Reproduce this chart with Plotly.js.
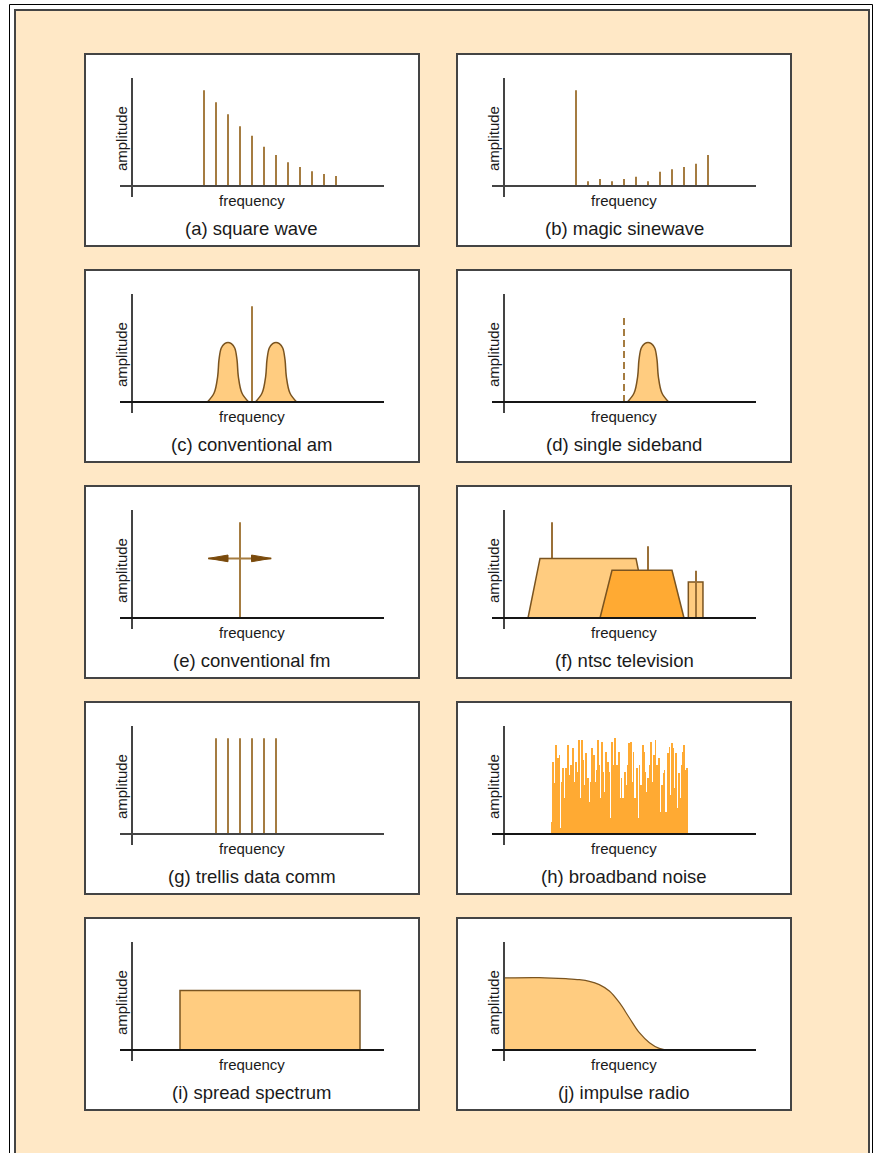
<!DOCTYPE html>
<html><head><meta charset="utf-8">
<script src="https://cdn.plot.ly/plotly-3.0.1.min.js"></script>
<style>html,body{margin:0;padding:0;background:#fff;}#chart{width:873px;height:1153px;}</style>
</head><body><div id="chart"></div>
<script>
// ---------- text ----------
const captions = ["(a) square wave","(b) magic sinewave","(c) conventional am","(d) single sideband",
  "(e) conventional fm","(f) ntsc television","(g) trellis data comm","(h) broadband noise",
  "(i) spread spectrum","(j) impulse radio"];
const xLabel = "frequency";
const yLabel = "amplitude";

// ---------- data (frequency / amplitude, arbitrary units) ----------
// (a) square wave harmonics
const squareFreq = [30,35,40,45,50,55,60,65,70,75,80,85];
const squareAmp  = [88.6,77.5,66.4,55.3,46.6,36.4,28.7,21.9,17.6,13.6,11.1,9.3];
// (b) magic sinewave
const magicFreq = [30,35,40,45,50,55,60,65,70,75,80,85];
const magicAmp  = [88.6,4.3,6.5,4.3,6.5,8.6,4.3,13.3,15.4,17.6,20.7,28.7];
// sideband profile (offset from centre, amplitude)
const bumpOffset = [-8.6,-5.8,-4.3,-3.75,-2.8,-1.4,0,1.4,2.8,3.75,4.3,5.8,8.6];
const bumpAmp    = [0,8.3,23.8,39.2,50,54,55.2,54,50,39.2,23.8,8.3,0];
// (c) conventional am
const amCarrierFreq = [50];
const amCarrierAmp  = [88.6];
const amSidebandCentres = [40,60];
// (d) single sideband
const ssbCarrierFreq = [50];
const ssbCarrierAmp  = [80];
const ssbSidebandCentres = [60];
// (e) conventional fm
const fmCarrierFreq = [45];
const fmCarrierAmp  = [88.6];
const fmSwingFreq   = [31.8,58.0];
const fmSwingAmp    = [55.2,55.2];
// (f) ntsc television
const tvVideoFreq  = [10,15,55,60];
const tvVideoAmp   = [0,55.2,55.2,0];
const tvChromaFreq = [40,45,70,75];
const tvChromaAmp  = [0,44.1,44.1,0];
const tvAudioFreq  = [76.8,76.8,82.9,82.9];
const tvAudioAmp   = [0,33.3,33.3,0];
const tvCarrierFreq = [20,60];
const tvCarrierAmp  = [88.6,66.4];
const tvAudioCarrierFreq = [80];
const tvAudioCarrierAmp  = [43.8];
// (g) trellis data comm
const trellisFreq = [35,40,45,50,55,60];
const trellisAmp  = [88.6,88.6,88.6,88.6,88.6,88.6];
// (h) broadband noise
const noiseFreq = [20.0,20.4,21.1,21.7,22.4,23.1,23.8,24.2,24.7,25.3,25.8,26.7,27.2,27.9,28.6,29.3,30.0,30.7,31.3,31.8,
  32.4,32.9,33.6,34.2,34.9,35.6,36.3,36.8,37.5,38.1,38.6,39.2,39.7,40.3,40.8,41.4,41.9,42.5,43.2,43.9,
  44.3,44.9,45.6,46.1,46.7,47.2,47.9,48.5,49.0,49.7,50.4,50.8,51.5,52.2,52.9,53.5,54.0,54.6,55.3,55.8,
  56.4,57.1,57.8,58.5,59.0,59.6,60.1,60.7,61.3,61.8,62.4,63.1,63.6,64.2,64.7,65.3,65.8,66.4,66.9,67.5,
  68.2,68.9,69.6,70.0,70.6,71.1,71.7,72.2,72.8,73.3,73.9,74.4,75.0,75.6,76.1];
const noiseAmp = [11.4,67.0,46.9,82.4,70.1,73.1,5.2,48.5,60.8,33.0,60.8,82.4,54.6,63.9,79.3,48.5,67.0,57.7,87.3,33.0,
  87.0,68.5,45.4,74.7,51.5,29.9,48.5,79.9,73.1,48.5,59.3,87.0,63.9,33.0,85.5,57.7,39.2,76.2,67.0,57.7,
  14.5,85.5,63.9,88.6,45.4,63.9,76.2,33.0,51.5,33.0,57.7,45.4,63.9,84.0,85.5,48.5,76.2,33.0,60.8,14.5,
  63.9,45.4,82.4,76.2,57.7,39.2,51.5,63.9,85.5,48.5,73.1,87.0,63.9,48.5,70.1,20.7,45.4,56.2,59.3,20.7,
  74.7,80.9,36.1,84.0,79.3,42.3,74.7,23.8,56.2,33.0,63.9,76.2,82.4,59.3,60.8];
// (i) spread spectrum
const spreadFreq = [20,20,95,95];
const spreadAmp  = [0,55.2,55.2,0];
// (j) impulse radio
const impulseFreq = [0,14.7,25.8,31.4,35.6,39.7,43.9,48.1,52.2,56.4,60.6,64.7,67.5];
const impulseAmp  = [66.7,67.0,66.0,65.1,63.6,60.5,54.6,43.8,29.9,16.0,6.8,1.5,0];

// ---------- styling / layout ----------
const W = 873, H = 1153;
const PAGE = '#FFE8C6', LIGHT = '#FFCC80', DARK = '#FFAA33';
const STEM = '#A57C41', EDGE = '#7A5420', ARROW = '#7A4A0C', AXIS = '#444', AXISDARK = '#151515';
const FONT = 'Liberation Sans, Arial, Helvetica, sans-serif';
const colLeft = [85, 457], rowTop = [54, 270, 486, 702, 918];
const panelW = 334, panelH = 192;
const darkBase = [false,false,true,true,true,true,false,true,true,true];

const px = v => v / W, py = v => 1 - v / H;

function stems(f, a) {
  const x = [], y = [];
  f.forEach((v, i) => { x.push(v, v, null); y.push(0, a[i], null); });
  return {x, y};
}
function bump(c) {
  return {x: bumpOffset.map(o => c + o), y: bumpAmp.slice()};
}

const traces = [];
function add(i, t) { t.xaxis = 'x' + (i === 1 ? '' : i); t.yaxis = 'y' + (i === 1 ? '' : i); t.hoverinfo = 'skip'; traces.push(t); }
function stemTrace(i, f, a, color, dash) {
  const s = stems(f, a);
  add(i, {type: 'scatter', mode: 'lines', x: s.x, y: s.y, line: {color: color || STEM, width: 2, dash: dash || 'solid'}});
}
function fillTrace(i, x, y, fill, shape) {
  add(i, {type: 'scatter', mode: 'lines', x: x, y: y, fill: 'toself', fillcolor: fill,
    line: {color: EDGE, width: 1.5, shape: shape || 'linear', smoothing: 1}});
}

// (a)
stemTrace(1, squareFreq, squareAmp);
// (b)
stemTrace(2, magicFreq, magicAmp);
// (c)
amSidebandCentres.forEach(c => { const b = bump(c); fillTrace(3, b.x, b.y, LIGHT, 'spline'); });
stemTrace(3, amCarrierFreq, amCarrierAmp);
// (d)
ssbSidebandCentres.forEach(c => { const b = bump(c); fillTrace(4, b.x, b.y, LIGHT, 'spline'); });
stemTrace(4, ssbCarrierFreq, ssbCarrierAmp, STEM, '7px,4px');
// (e)
stemTrace(5, fmCarrierFreq, fmCarrierAmp);
add(5, {type: 'scatter', mode: 'lines', x: fmSwingFreq, y: fmSwingAmp, line: {color: STEM, width: 2}});
(function () {
  const len = 8.2, half = 3.1;
  const l = fmSwingFreq[0], r = fmSwingFreq[1], h = fmSwingAmp[0];
  add(5, {type: 'scatter', mode: 'lines', x: [l, l + len, l + len, l], y: [h, h + half, h - half, h],
    fill: 'toself', fillcolor: ARROW, line: {color: ARROW, width: 1}});
  add(5, {type: 'scatter', mode: 'lines', x: [r, r - len, r - len, r], y: [h, h + half, h - half, h],
    fill: 'toself', fillcolor: ARROW, line: {color: ARROW, width: 1}});
})();
// (f)
stemTrace(6, tvCarrierFreq, tvCarrierAmp, '#9A7038');
fillTrace(6, tvVideoFreq, tvVideoAmp, LIGHT);
fillTrace(6, tvChromaFreq, tvChromaAmp, DARK);
fillTrace(6, tvAudioFreq, tvAudioAmp, LIGHT);
stemTrace(6, tvAudioCarrierFreq, tvAudioCarrierAmp, '#9A7038');
// (g)
stemTrace(7, trellisFreq, trellisAmp);
// (h)
add(8, {type: 'bar', x: noiseFreq, y: noiseAmp, width: 0.72, marker: {color: DARK, line: {width: 0}}});
// (i)
fillTrace(9, spreadFreq, spreadAmp, LIGHT);
// (j)
add(10, {type: 'scatter', mode: 'lines', x: impulseFreq, y: impulseAmp, fill: 'tozeroy', fillcolor: LIGHT,
  line: {color: EDGE, width: 1.2, shape: 'spline', smoothing: 1}});

const layout = {
  width: W, height: H, margin: {l: 0, r: 0, t: 0, b: 0},
  paper_bgcolor: '#fff', plot_bgcolor: 'rgba(0,0,0,0)', showlegend: false, hovermode: false,
  bargap: 0, shapes: [], annotations: []
};
// page frame
layout.shapes.push({type: 'rect', xref: 'paper', yref: 'paper', layer: 'below',
  x0: px(9.5), x1: px(872.5), y0: py(1170), y1: py(4.5), line: {color: '#000', width: 1}, fillcolor: '#fff'});
layout.shapes.push({type: 'rect', xref: 'paper', yref: 'paper', layer: 'below',
  x0: px(15), x1: px(869), y0: py(1170), y1: py(10), line: {color: '#444', width: 2}, fillcolor: PAGE});

for (let i = 1; i <= 10; i++) {
  const L = colLeft[(i - 1) % 2], T = rowTop[Math.floor((i - 1) / 2)];
  const sfx = i === 1 ? '' : i;
  layout['xaxis' + sfx] = {domain: [px(L + 35), px(L + 299)], range: [-5, 105], anchor: 'y' + sfx,
    showgrid: false, showticklabels: false, ticks: '', showline: false, fixedrange: true,
    zeroline: true, zerolinecolor: AXIS, zerolinewidth: 2, zerolinelayer: 'above traces'};
  layout['yaxis' + sfx] = {domain: [py(T + 143), py(T + 24)], range: [-10.185, 100], anchor: 'x' + sfx,
    showgrid: false, showticklabels: false, ticks: '', showline: false, fixedrange: true,
    zeroline: true, zerolinecolor: darkBase[i - 1] ? AXISDARK : AXIS, zerolinewidth: 2, zerolinelayer: 'above traces'};
  layout.shapes.push({type: 'rect', xref: 'paper', yref: 'paper', layer: 'below',
    x0: px(L), x1: px(L + panelW), y0: py(T + panelH), y1: py(T), line: {color: '#444', width: 2}, fillcolor: '#fff'});
  layout.annotations.push({xref: 'paper', yref: 'paper', x: px(L + 36.3), y: py(T + 84.8), text: yLabel,
    textangle: -90, showarrow: false, xanchor: 'center', yanchor: 'middle', font: {family: FONT, size: 15, color: '#1a1a1a'}});
  layout.annotations.push({xref: 'paper', yref: 'paper', x: px(L + panelW / 2), y: py(T + 146.5), text: xLabel,
    showarrow: false, xanchor: 'center', yanchor: 'middle', font: {family: FONT, size: 15, color: '#1a1a1a'}});
  layout.annotations.push({xref: 'paper', yref: 'paper', x: px(L + panelW / 2), y: py(T + 174.5), text: captions[i - 1],
    showarrow: false, xanchor: 'center', yanchor: 'middle', font: {family: FONT, size: 18.5, color: '#1a1a1a'}});
}

Plotly.newPlot('chart', traces, layout, {staticPlot: true, displayModeBar: false});
</script></body></html>
